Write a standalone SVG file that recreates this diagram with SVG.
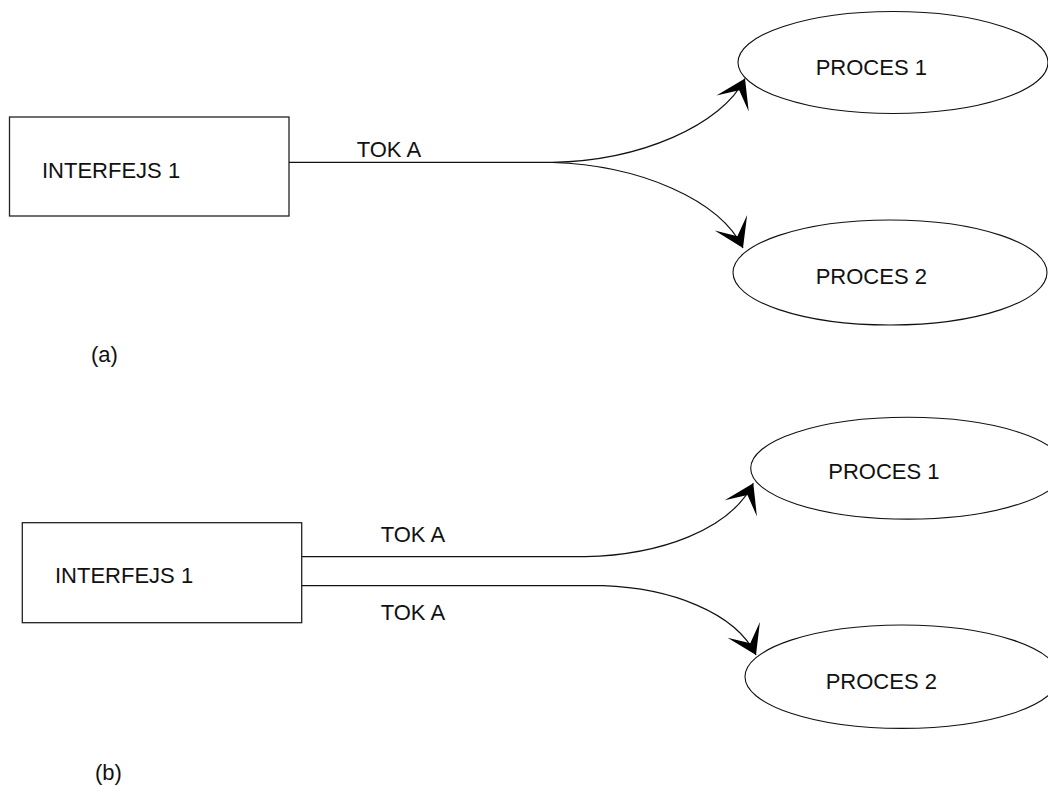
<svg xmlns="http://www.w3.org/2000/svg" width="1048" height="787" viewBox="0 0 1048 787">
  <style>
    .box { fill: #ffffff; stroke: #222222; stroke-width: 1.3; }
    .proc { fill: #ffffff; stroke: #111111; stroke-width: 1.1; }
    .lbl { font-family: "Liberation Sans", Arial, sans-serif; font-size: 22px; fill: #111111; }
    .flow { fill: none; stroke: #111111; stroke-width: 1.2; }
  </style>
  <defs>
    <marker id="ah" markerUnits="userSpaceOnUse" markerWidth="40" markerHeight="40" refX="0" refY="0" orient="auto" overflow="visible">
      <path d="M 0 0 L -28 -18 L -13 0 L -28 18 Z" fill="#000000"/>
    </marker>
  </defs>
  <rect width="1048" height="787" fill="#ffffff"/>

  <g id="connectors">
    <path class="flow" d="M 288 162.3 H 552 C 640 161 722 125 745 78.5" marker-end="url(#ah)"/>
    <path class="flow" d="M 552 162.5 C 640 165 720 200 743 248" marker-end="url(#ah)"/>
    <path class="flow" d="M 301.7 556.7 H 585 C 660 555 730 530 753.3 483.3" marker-end="url(#ah)"/>
    <path class="flow" d="M 301.7 585.7 H 603 C 670 588 735 612 756 655" marker-end="url(#ah)"/>
  </g>

  <g id="interfejs-a">
    <rect class="box" x="9.5" y="117" width="279.5" height="99"/>
    <text class="lbl" x="42" y="178">INTERFEJS 1</text>
  </g>
  <g id="proces1-a">
    <ellipse class="proc" cx="893" cy="62.5" rx="155" ry="51"/>
    <text class="lbl" x="815.7" y="75">PROCES 1</text>
  </g>
  <g id="proces2-a">
    <ellipse class="proc" cx="890" cy="272.5" rx="157" ry="52.5"/>
    <text class="lbl" x="815.7" y="284.3">PROCES 2</text>
  </g>
  <g id="labels-a">
    <text class="lbl" x="356.7" y="156.7">TOK A</text>
    <text class="lbl" x="91" y="361.7">(a)</text>
  </g>

  <g id="interfejs-b">
    <rect class="box" x="22.3" y="522.7" width="279.4" height="100"/>
    <text class="lbl" x="55" y="583.3">INTERFEJS 1</text>
  </g>
  <g id="proces1-b">
    <ellipse class="proc" cx="907.7" cy="468.2" rx="157" ry="50.9"/>
    <text class="lbl" x="828.3" y="479.3">PROCES 1</text>
  </g>
  <g id="proces2-b">
    <ellipse class="proc" cx="902" cy="676.7" rx="157" ry="51.7"/>
    <text class="lbl" x="825.7" y="689.3">PROCES 2</text>
  </g>
  <g id="labels-b">
    <text class="lbl" x="380.7" y="541.7">TOK A</text>
    <text class="lbl" x="380.7" y="619.7">TOK A</text>
    <text class="lbl" x="95" y="780">(b)</text>
  </g>
</svg>
